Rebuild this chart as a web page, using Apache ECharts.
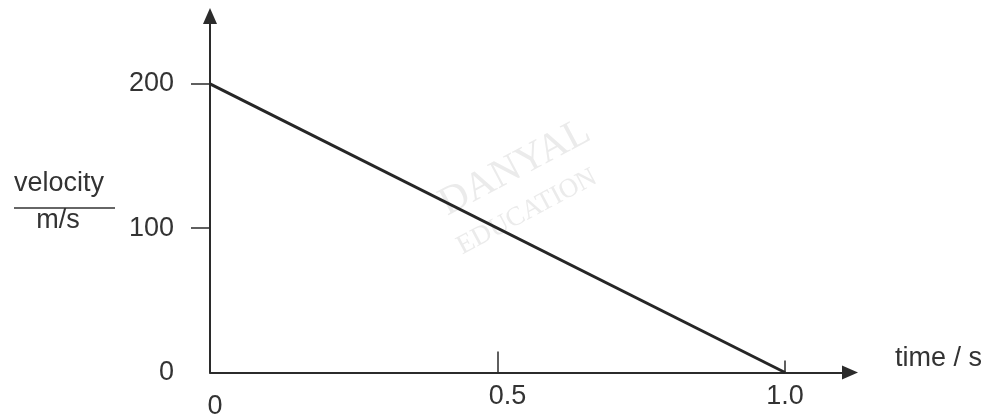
<!DOCTYPE html>
<html><head><meta charset="utf-8">
<script src="https://cdn.jsdelivr.net/npm/echarts@6/dist/echarts.min.js"></script>
<style>html,body{margin:0;padding:0;background:#fff}#c{width:988px;height:417px}</style>
</head><body><div id="c"></div>
<script>
// data
const timeValues = [0, 1.0];
const velocityValues = [200, 0];
const xTickValues = [0, 0.5, 1.0];
const xTickLabels = ['0', '0.5', '1.0'];
const yTickValues = [0, 100, 200];
const yTickLabels = ['0', '100', '200'];
const xAxisName = 'time / s';
const yNameTop = 'velocity';
const yNameBottom = 'm/s';
const watermark = ['DANYAL', 'EDUCATION'];

const FONT = "'Liberation Sans', Arial, sans-serif";
const TXT = '#333';
const AX = '#2b2b2b';
const X_MAX = 1.113, Y_MAX = 247;

const chart = echarts.init(document.getElementById('c'), null, {renderer: 'canvas'});
const labelRich = {
  z: {fontSize: 27, fontFamily: FONT, color: TXT, padding: [10, 0, 0, 10]},
  h: {fontSize: 27, fontFamily: FONT, color: TXT, padding: [0, 0, 0, 20]},
  n: {fontSize: 27, fontFamily: FONT, color: TXT}
};
chart.setOption({
  animation: false,
  backgroundColor: '#fff',
  grid: {left: 210, right: 138, top: 16, bottom: 44.5, containLabel: false, outerBoundsMode: 'none'},
  xAxis: [{
    type: 'value', min: 0, max: X_MAX,
    name: xAxisName, nameLocation: 'end', nameGap: 45,
    nameTextStyle: {fontSize: 27, fontFamily: FONT, color: TXT, verticalAlign: 'bottom', lineHeight: 27, padding: [0, 0, 0, 0]},
    axisLine: {show: true, onZero: false, symbol: ['none', 'triangle'], symbolSize: [14, 16],
      lineStyle: {color: AX, width: 2}},
    axisTick: {show: true, inside: true, length: 21, customValues: [xTickValues[1]],
      lineStyle: {color: AX, width: 1.5}},
    axisLabel: {show: true, margin: 11, customValues: xTickValues,
      formatter: function (v) {
        const i = xTickValues.indexOf(v);
        const t = xTickLabels[i];
        return i === 0 ? '{z|' + t + '}' : (i === 1 ? '{h|' + t + '}' : '{n|' + t + '}');
      },
      rich: labelRich},
    splitLine: {show: false}
  }, {
    type: 'value', min: 0, max: X_MAX, position: 'bottom', offset: 4,
    axisLine: {show: false},
    axisTick: {show: true, inside: true, length: 12, customValues: [xTickValues[2]],
      lineStyle: {color: AX, width: 1.5}},
    axisLabel: {show: false},
    splitLine: {show: false}
  }],
  yAxis: {
    type: 'value', min: 0, max: Y_MAX,
    axisLine: {show: true, onZero: false, symbol: ['none', 'triangle'], symbolSize: [14, 16],
      lineStyle: {color: AX, width: 2}},
    axisTick: {show: true, inside: false, length: 19, customValues: [yTickValues[1], yTickValues[2]],
      lineStyle: {color: AX, width: 1.5}},
    axisLabel: {show: true, margin: 36, customValues: yTickValues,
      formatter: function (v) { return yTickLabels[yTickValues.indexOf(v)]; },
      fontSize: 27, fontFamily: FONT, color: TXT},
    splitLine: {show: false}
  },
  series: [{
    type: 'line',
    data: timeValues.map((t, i) => [t, velocityValues[i]]),
    showSymbol: false,
    symbol: 'none',
    lineStyle: {color: '#262626', width: 3},
    z: 5
  }],
  graphic: [
    {type: 'text', left: 14, top: 170, style: {text: yNameTop, font: '27px ' + FONT, fill: TXT, width: 101, align: 'center'}, z: 10},
    {type: 'line', shape: {x1: 14, y1: 208, x2: 115, y2: 208}, style: {stroke: TXT, lineWidth: 1.5}, z: 10},
    {type: 'text', x: 58, y: 221, style: {text: yNameBottom, font: '27px ' + FONT, fill: TXT, align: 'center', verticalAlign: 'middle'}, z: 10},
    {type: 'text', x: 515, y: 168, rotation: 28 * Math.PI / 180,
      style: {text: watermark[0], font: '40px "Liberation Serif", "DejaVu Serif", serif', fill: '#ebebeb', align: 'center', verticalAlign: 'middle'}, z: -1},
    {type: 'text', x: 527, y: 212, rotation: 28 * Math.PI / 180,
      style: {text: watermark[1], font: '27px "Liberation Serif", "DejaVu Serif", serif', fill: '#ebebeb', align: 'center', verticalAlign: 'middle'}, z: -1}
  ]
});
</script>
</body></html>
